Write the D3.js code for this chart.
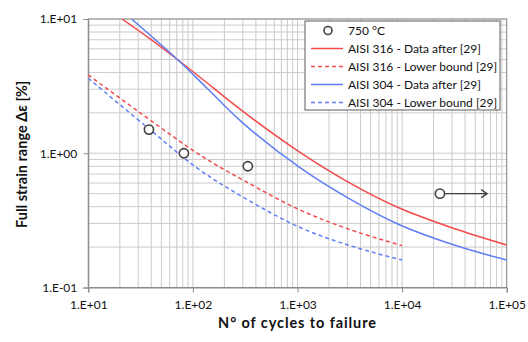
<!DOCTYPE html>
<html>
<head>
<meta charset="utf-8">
<script src="https://cdn.jsdelivr.net/npm/d3@7"></script>
<style>
  html, body { margin: 0; padding: 0; background: #fff; }
  svg { display: block; font-family: Lato, "Open Sans", sans-serif; }
</style>
</head>
<body>
<svg id="chart" width="528" height="342"></svg>
<script>
// Fatigue life data: full strain range (%) vs number of cycles to failure
const xTickValues = [1e1, 1e2, 1e3, 1e4, 1e5];
const xTickLabels = ["1.E+01", "1.E+02", "1.E+03", "1.E+04", "1.E+05"];
const yTickValues = [0.1, 1, 10];
const yTickLabels = ["1.E-01", "1.E+00", "1.E+01"];

// Test points at 750 °C
const testCycles = [38, 82, 335, 23000];
const testStrain = [1.5, 1.0, 0.8, 0.5];
// Run-out (test still going): arrow towards longer life
const runoutFrom = 23000;
const runoutTo = 65000;
const runoutStrain = 0.5;

// AISI 316 - Data after [29]
const aisi316Cycles = [21, 39, 72, 117, 303, 1057, 3177, 9550, 30900, 100000];
const aisi316Strain = [10, 7.1, 4.95, 3.68, 2.04, 1.016, 0.60, 0.389, 0.276, 0.207];
// AISI 316 - Lower bound [29]
const aisi316LbCycles = [10, 30, 117, 303, 1057, 3177, 10000];
const aisi316LbStrain = [3.83, 2.05, 0.97, 0.63, 0.378, 0.27, 0.205];
// AISI 304 - Data after [29]
const aisi304Cycles = [25.9, 72, 139, 303, 1057, 3177, 9550, 30900, 100000];
const aisi304Strain = [10, 4.95, 3.01, 1.67, 0.78, 0.455, 0.292, 0.208, 0.160];
// AISI 304 - Lower bound [29]
const aisi304LbCycles = [10, 43.2, 112, 303, 1057, 3177, 10000];
const aisi304LbStrain = [3.62, 1.40, 0.767, 0.47, 0.28, 0.205, 0.16];

const legendLabels = [
  "750 °C",
  "AISI 316 - Data after [29]",
  "AISI 316 - Lower bound [29]",
  "AISI 304 - Data after [29]",
  "AISI 304 - Lower bound [29]"
];

const RED = "#f44a4a";
const BLUE = "#5f7ef5";
const GRID = "#cbcbcb";
const AXIS = "#8c8c8c";
const MARK = "#404040";

const svg = d3.select("#chart");
const plot = { left: 88.3, right: 506.7, top: 19, bottom: 287.5 };

const x = d3.scaleLog().domain([10, 1e5]).range([plot.left, plot.right]);
const y = d3.scaleLog().domain([0.1, 10]).range([plot.bottom, plot.top]);

// Grid: all decade sub-divisions (1..9 × 10^k)
const xGrid = x.ticks();
const yGrid = y.ticks();

const grid = svg.append("g").attr("class", "grid");
grid.selectAll("line.gx").data(xGrid).join("line")
  .attr("x1", d => x(d)).attr("x2", d => x(d))
  .attr("y1", plot.top).attr("y2", plot.bottom)
  .attr("stroke", GRID).attr("stroke-width", 1);
grid.selectAll("line.gy").data(yGrid).join("line")
  .attr("x1", plot.left).attr("x2", plot.right)
  .attr("y1", d => y(d)).attr("y2", d => y(d))
  .attr("stroke", GRID).attr("stroke-width", 1);

// Plot frame
svg.append("rect")
  .attr("x", plot.left).attr("y", plot.top)
  .attr("width", plot.right - plot.left).attr("height", plot.bottom - plot.top)
  .attr("fill", "none").attr("stroke", AXIS).attr("stroke-width", 1);

// Axes
const xAxis = d3.axisBottom(x).tickValues(xTickValues)
  .tickFormat((d, i) => xTickLabels[i]).tickSizeOuter(0).tickSize(5).tickPadding(8);
const yAxis = d3.axisLeft(y).tickValues(yTickValues)
  .tickFormat((d, i) => yTickLabels[i]).tickSizeOuter(0).tickSize(5).tickPadding(6);

const gx = svg.append("g").attr("transform", `translate(0,${plot.bottom})`).call(xAxis);
const gy = svg.append("g").attr("transform", `translate(${plot.left},0)`).call(yAxis);
[gx, gy].forEach(g => {
  g.select(".domain").attr("stroke", AXIS);
  g.selectAll(".tick line").attr("stroke", AXIS);
  g.selectAll(".tick text").attr("fill", "#111").style("font-size", "12px")
    .style("font-family", "Lato, 'Open Sans', sans-serif");
});

// Axis titles
svg.append("text")
  .attr("x", (plot.left + plot.right) / 2).attr("y", 328)
  .attr("text-anchor", "middle")
  .style("font-size", "14.5px").style("font-weight", "bold")
  .style("letter-spacing", "0.9px").attr("fill", "#111")
  .text("N° of cycles to failure");
svg.append("text")
  .attr("transform", `translate(27,${(plot.top + plot.bottom) / 2 + 1}) rotate(-90)`)
  .attr("text-anchor", "middle")
  .style("font-size", "14.5px").style("font-weight", "bold").attr("fill", "#111")
  .text("Full strain range Δε [%]");

// Curves, clipped to the plot area
svg.append("clipPath").attr("id", "plotClip")
  .append("rect").attr("x", plot.left).attr("y", plot.top)
  .attr("width", plot.right - plot.left).attr("height", plot.bottom - plot.top);

const line = d3.line().x(d => x(d[0])).y(d => y(d[1])).curve(d3.curveCatmullRom.alpha(0.5));
const zip = (a, b) => a.map((v, i) => [v, b[i]]);

const series = [
  { pts: zip(aisi316Cycles, aisi316Strain), color: RED, dash: null },
  { pts: zip(aisi316LbCycles, aisi316LbStrain), color: RED, dash: "4,3" },
  { pts: zip(aisi304Cycles, aisi304Strain), color: BLUE, dash: null },
  { pts: zip(aisi304LbCycles, aisi304LbStrain), color: BLUE, dash: "4,3" }
];

const curves = svg.append("g").attr("clip-path", "url(#plotClip)");
curves.selectAll("path").data(series).join("path")
  .attr("d", d => line(d.pts))
  .attr("fill", "none")
  .attr("stroke", d => d.color)
  .attr("stroke-width", 1.5)
  .attr("stroke-dasharray", d => d.dash);

// Run-out arrow
const ax0 = x(runoutFrom) + 5, ax1 = x(runoutTo), ay = y(runoutStrain);
const arrow = svg.append("g").attr("stroke", MARK).attr("stroke-width", 1.3).attr("fill", "none");
arrow.append("line").attr("x1", ax0).attr("x2", ax1).attr("y1", ay).attr("y2", ay);
arrow.append("path").attr("d", `M${ax1 - 6},${ay - 4} L${ax1},${ay} L${ax1 - 6},${ay + 4}`);

// Test points
svg.append("g").selectAll("circle").data(zip(testCycles, testStrain)).join("circle")
  .attr("cx", d => x(d[0])).attr("cy", d => y(d[1])).attr("r", 4.6)
  .attr("fill", "#fff").attr("stroke", MARK).attr("stroke-width", 1.6);

// Legend
const lg = svg.append("g").attr("transform", "translate(305,21)");
lg.append("rect").attr("width", 195).attr("height", 89)
  .attr("fill", "#fff").attr("stroke", "#5a5a5a").attr("stroke-width", 1);
const rowY = [9.5, 27.5, 45.5, 63.5, 81.5];
const legendStyles = [
  { type: "circle" },
  { type: "line", color: RED, dash: null },
  { type: "line", color: RED, dash: "4,3" },
  { type: "line", color: BLUE, dash: null },
  { type: "line", color: BLUE, dash: "4,3" }
];
legendLabels.forEach((label, i) => {
  const row = lg.append("g").attr("transform", `translate(0,${rowY[i]})`);
  const st = legendStyles[i];
  if (st.type === "circle") {
    row.append("circle").attr("cx", 23).attr("cy", 0).attr("r", 4)
      .attr("fill", "#fff").attr("stroke", MARK).attr("stroke-width", 1.6);
  } else {
    row.append("line").attr("x1", 6).attr("x2", 38).attr("y1", 0).attr("y2", 0)
      .attr("stroke", st.color).attr("stroke-width", 1.5)
      .attr("stroke-dasharray", st.dash);
  }
  row.append("text").attr("x", 43).attr("y", 0).attr("dy", "0.35em")
    .style("font-size", "12px").attr("fill", "#111").text(label);
});
</script>
</body>
</html>
